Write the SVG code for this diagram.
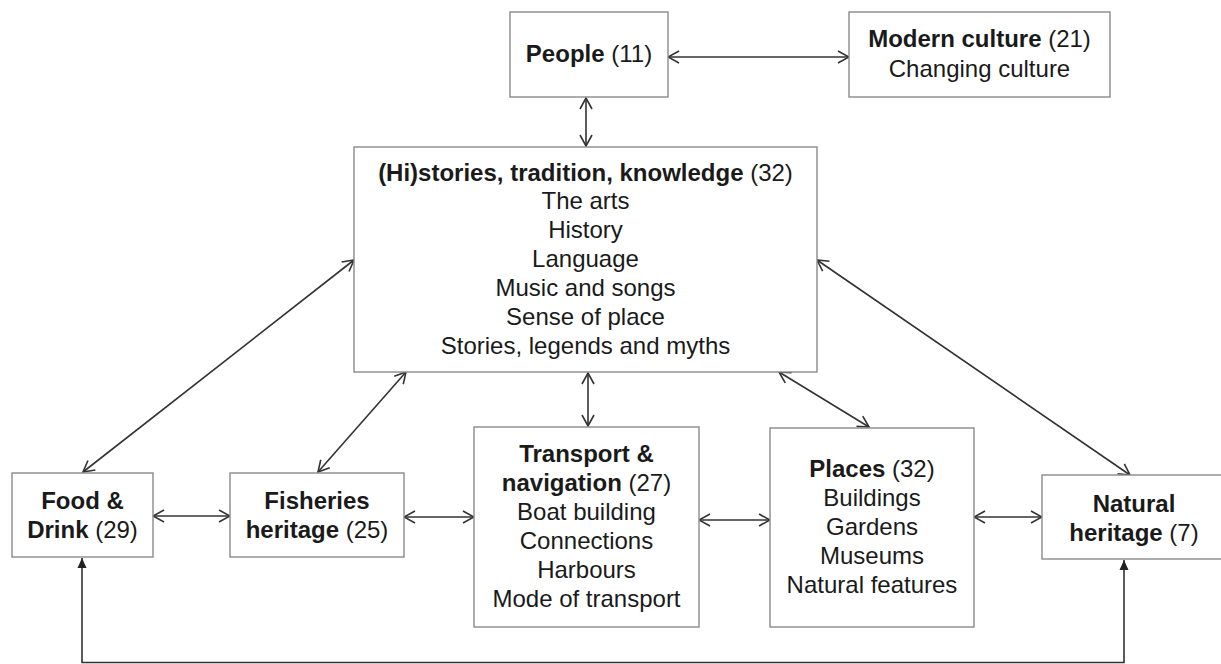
<svg xmlns="http://www.w3.org/2000/svg" width="1221" height="664" viewBox="0 0 1221 664">
<style>
.box{fill:#fff;stroke:#8a8a8a;stroke-width:1.4}
text{font-family:"Liberation Sans",Arial,sans-serif;font-size:24px;fill:#1a1a1a;text-anchor:middle}
.b{font-weight:bold}
.c{fill:none;stroke:#333;stroke-width:1.6}
</style>
<defs>
<marker id="oa" viewBox="-12 -7 13 14" refX="0" refY="0" markerWidth="13" markerHeight="14" markerUnits="userSpaceOnUse" orient="auto-start-reverse">
<path d="M-11,-6 L0,0 L-11,6" fill="none" stroke="#333" stroke-width="1.6"/>
</marker>
<marker id="fa" viewBox="-11 -6 12 12" refX="0" refY="0" markerWidth="12" markerHeight="12" markerUnits="userSpaceOnUse" orient="auto-start-reverse">
<path d="M-10,-4.5 L0,0 L-10,4.5 Z" fill="#222"/>
</marker>
</defs>
<g id="connectors">
<line class="c" x1="668" y1="57" x2="849" y2="57" marker-start="url(#oa)" marker-end="url(#oa)"/>
<line class="c" x1="586" y1="98" x2="586" y2="146" marker-start="url(#oa)" marker-end="url(#oa)"/>
<line class="c" x1="354" y1="260" x2="83" y2="472" marker-start="url(#oa)" marker-end="url(#oa)"/>
<line class="c" x1="406" y1="372" x2="318" y2="472" marker-start="url(#oa)" marker-end="url(#oa)"/>
<line class="c" x1="588" y1="373" x2="588" y2="426" marker-start="url(#oa)" marker-end="url(#oa)"/>
<line class="c" x1="779" y1="372" x2="869" y2="427" marker-start="url(#oa)" marker-end="url(#oa)"/>
<line class="c" x1="817" y1="260" x2="1130" y2="475" marker-start="url(#oa)" marker-end="url(#oa)"/>
<line class="c" x1="153" y1="516" x2="230" y2="516" marker-start="url(#oa)" marker-end="url(#oa)"/>
<line class="c" x1="404" y1="517" x2="474" y2="517" marker-start="url(#oa)" marker-end="url(#oa)"/>
<line class="c" x1="699" y1="520" x2="770" y2="520" marker-start="url(#oa)" marker-end="url(#oa)"/>
<line class="c" x1="974" y1="517" x2="1042" y2="517" marker-start="url(#oa)" marker-end="url(#oa)"/>
<polyline class="c" points="82,558 82,662.5 1124,662.5 1124,560" marker-start="url(#fa)" marker-end="url(#fa)"/>
</g>
<g id="people">
<rect class="box" x="510" y="12" width="158" height="85"/>
<text x="589" y="62"><tspan class="b">People</tspan> (11)</text>
</g>
<g id="modern">
<rect class="box" x="849" y="12" width="261" height="85"/>
<text x="979.5" y="47"><tspan class="b">Modern culture</tspan> (21)</text>
<text x="979.5" y="77">Changing culture</text>
</g>
<g id="histories">
<rect class="box" x="354" y="147" width="463" height="225"/>
<text x="585.5" y="181"><tspan class="b">(Hi)stories, tradition, knowledge</tspan> (32)</text>
<text x="585.5" y="209">The arts</text>
<text x="585.5" y="238">History</text>
<text x="585.5" y="267">Language</text>
<text x="585.5" y="296">Music and songs</text>
<text x="585.5" y="325">Sense of place</text>
<text x="585.5" y="354">Stories, legends and myths</text>
</g>
<g id="food">
<rect class="box" x="12" y="473" width="141" height="84"/>
<text x="82.5" y="509" class="b">Food &amp;</text>
<text x="82.5" y="538"><tspan class="b">Drink</tspan> (29)</text>
</g>
<g id="fisheries">
<rect class="box" x="230" y="473" width="174" height="84"/>
<text x="317" y="509" class="b">Fisheries</text>
<text x="317" y="538"><tspan class="b">heritage</tspan> (25)</text>
</g>
<g id="transport">
<rect class="box" x="474" y="427" width="225" height="200"/>
<text x="586.5" y="462" class="b">Transport &amp;</text>
<text x="586.5" y="491"><tspan class="b">navigation</tspan> (27)</text>
<text x="586.5" y="520">Boat building</text>
<text x="586.5" y="549">Connections</text>
<text x="586.5" y="578">Harbours</text>
<text x="586.5" y="607">Mode of transport</text>
</g>
<g id="places">
<rect class="box" x="770" y="428" width="204" height="199"/>
<text x="872" y="477"><tspan class="b">Places</tspan> (32)</text>
<text x="872" y="506">Buildings</text>
<text x="872" y="535">Gardens</text>
<text x="872" y="564">Museums</text>
<text x="872" y="593">Natural features</text>
</g>
<g id="natural">
<rect class="box" x="1042" y="475" width="186" height="84"/>
<text x="1134" y="512" class="b">Natural</text>
<text x="1134" y="541"><tspan class="b">heritage</tspan> (7)</text>
</g>
</svg>
